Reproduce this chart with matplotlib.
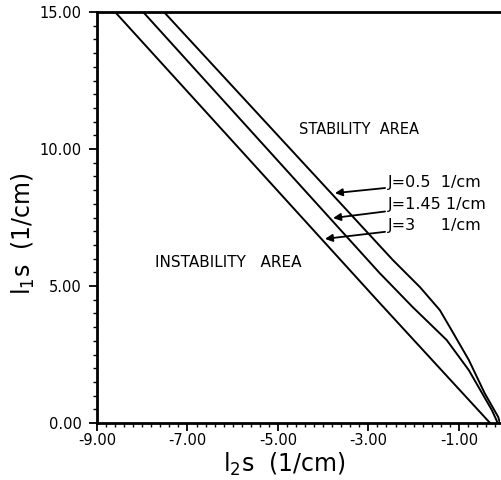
import matplotlib
matplotlib.use("Agg")
import matplotlib.pyplot as plt
from matplotlib.ticker import MultipleLocator, FormatStrFormatter

plt.rcParams['font.family'] = ['DejaVu Sans']
plt.rcParams['mathtext.fontset'] = 'dejavusans'
plt.rcParams['axes.unicode_minus'] = True

# Stability boundaries l1s(l2s) for three values of J
l2s_j05 = [-7.52, -2.46, -1.86, -1.42, -1.20, -0.78, -0.43, -0.13, -0.09]
l1s_j05 = [15.0, 5.95, 4.96, 4.12, 3.50, 2.30, 1.09, 0.22, 0.0]

l2s_j145 = [-7.98, -2.75, -2.02, -1.27, -0.78, -0.27, -0.14]
l1s_j145 = [15.0, 5.47, 4.23, 3.03, 1.93, 0.47, 0.0]

l2s_j3 = [-8.60, -2.75, -0.31]
l1s_j3 = [15.0, 4.38, 0.0]

curve_labels = ["J=0.5  1/cm", "J=1.45 1/cm", "J=3     1/cm"]
label_l1s = [8.76, 7.96, 7.19]
arrow_tip_l2s = [-3.74, -3.78, -3.96]
arrow_tip_l1s = [8.39, 7.48, 6.72]

fig = plt.figure(figsize=(5.02, 4.80), dpi=100)
ax = fig.add_axes([97 / 502, 57 / 480, 403 / 502, 411 / 480])

for xs, ys in [(l2s_j05, l1s_j05), (l2s_j145, l1s_j145), (l2s_j3, l1s_j3)]:
    ax.plot(xs, ys, color='black', lw=1.4, solid_joinstyle='round')

ax.set_xlim(-9.0, -0.09)
ax.set_ylim(0.0, 15.0)

ax.set_xticks([-9, -7, -5, -3, -1])
ax.xaxis.set_minor_locator(MultipleLocator(0.2))
ax.yaxis.set_major_locator(MultipleLocator(5.0))
ax.yaxis.set_minor_locator(MultipleLocator(0.5))
ax.xaxis.set_major_formatter(FormatStrFormatter('%.2f'))
ax.yaxis.set_major_formatter(FormatStrFormatter('%.2f'))

ax.tick_params(axis='both', which='major', direction='out', length=6, width=1.3,
               labelsize=10.5, pad=1)
ax.tick_params(axis='both', which='minor', direction='out', length=3, width=1.0)
ax.tick_params(axis='y', which='major', pad=5)

for side in ['left', 'bottom', 'top']:
    ax.spines[side].set_linewidth(2.0)
ax.spines['right'].set_visible(False)

ax.set_xlabel(r"l$_2$s  (1/cm)", fontsize=17, va='bottom')
ax.set_ylabel(r"l$_1$s  (1/cm)", fontsize=17)
ax.xaxis.set_label_coords(0.465, -0.135)
ax.yaxis.set_label_coords(-0.15, 0.46)

ax.text(-3.20, 10.7, "STABILITY  AREA", fontsize=10.5, ha='center', va='center')
ax.text(-6.10, 5.84, "INSTABILITY   AREA", fontsize=11, ha='center', va='center')

for label, ly, tx, ty in zip(curve_labels, label_l1s, arrow_tip_l2s, arrow_tip_l1s):
    ax.annotate(label, xy=(tx, ty), xytext=(-2.57, ly),
                fontsize=11.5, ha='left', va='center',
                arrowprops=dict(arrowstyle='-|>', color='black', lw=1.3,
                                mutation_scale=11, shrinkA=0, shrinkB=0))

fig.savefig("out.png", dpi=100)
